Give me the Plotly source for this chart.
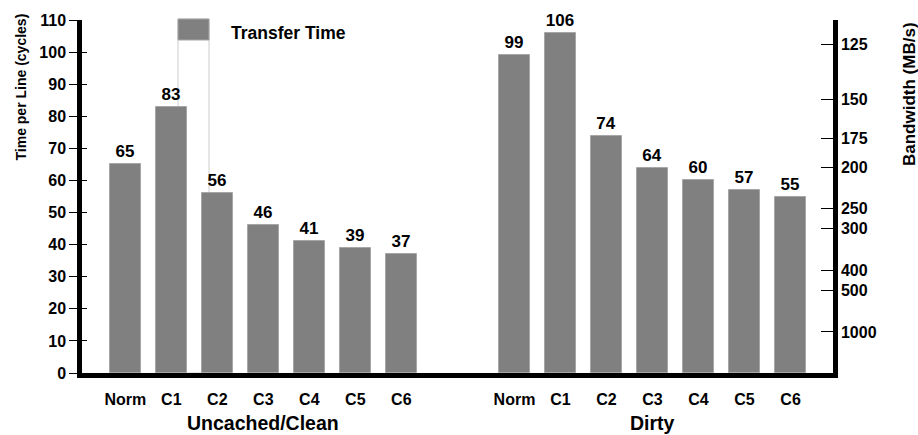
import plotly.graph_objects as go

# ---- data ----
categories = ["Norm", "C1", "C2", "C3", "C4", "C5", "C6"]
group_names = ["Uncached/Clean", "Dirty"]
clean_times = [65, 83, 56, 46, 41, 39, 37]
dirty_times = [99, 106, 74, 64, 60, 57, 55]
left_ticks = [0, 10, 20, 30, 40, 50, 60, 70, 80, 90, 100, 110]
bw_labels = ["125", "150", "175", "200", "250", "300", "400", "500", "1000"]
bw_tick_cycles = [102.4, 85.3, 73.1, 64.0, 51.2, 45.1, 32.0, 25.6, 12.8]
legend_name = "Transfer Time"

# ---- layout helpers ----
W, H = 918, 435
ML, MR, MT, MB = 82, 85, 20, 62
PW, PH = W - ML - MR, H - MT - MB
GROUP_GAP = 1.46
FONT = "Liberation Sans, Arial, Helvetica, sans-serif"
BAR = "#808080"

def px(xp):
    return (xp - ML) / PW

def py(yp):
    return (H - MB - yp) / PH

n = len(categories)
left_x = list(range(n))
right_x = [i + n + GROUP_GAP for i in range(n)]

fig = go.Figure()
for xs, ys in ((left_x, clean_times), (right_x, dirty_times)):
    fig.add_trace(go.Bar(
        x=xs, y=ys, width=0.67,
        marker=dict(color=BAR, line=dict(color="#a6a6a6", width=1)),
        text=[str(v) for v in ys], textposition="outside",
        textfont=dict(family=FONT, size=17, color="black", weight="bold"),
        constraintext="none", cliponaxis=False, showlegend=False,
        hoverinfo="skip",
    ))

# empty traces to activate the overlay axes
fig.add_trace(go.Scatter(x=[None], y=[None], yaxis="y3", showlegend=False))
fig.add_trace(go.Scatter(x=[None], y=[None], yaxis="y2", showlegend=False))

tickfont = dict(family=FONT, size=16, color="black", weight="bold")
fig.update_layout(
    width=W, height=H,
    margin=dict(l=ML, r=MR, t=MT, b=MB, pad=0),
    paper_bgcolor="white", plot_bgcolor="white",
    bargap=0,
    xaxis=dict(
        range=[-0.941, right_x[-1] + 0.923],
        tickvals=left_x + right_x, ticktext=categories + categories,
        showline=True, linewidth=4.5, linecolor="black",
        ticks="", showgrid=False, zeroline=False,
        tickfont=tickfont, ticklabelstandoff=8,
    ),
    yaxis=dict(
        range=[0, 110], tickvals=left_ticks,
        showline=True, linewidth=4.5, linecolor="black",
        ticks="outside", ticklen=8, tickwidth=1.2, tickcolor="black",
        showgrid=False, zeroline=False, tickfont=tickfont,
    ),
    yaxis3=dict(
        range=[0, 110], tickvals=left_ticks, overlaying="y", side="left",
        showline=False, showticklabels=False,
        ticks="inside", ticklen=5, tickwidth=1.2, tickcolor="black",
        showgrid=False, zeroline=False,
    ),
    yaxis2=dict(
        range=[0, 110], tickvals=bw_tick_cycles, ticktext=bw_labels,
        overlaying="y", side="right",
        showline=True, linewidth=4.5, linecolor="black",
        ticks="inside", ticklen=12, tickwidth=1.2, tickcolor="black",
        showgrid=False, zeroline=False, tickfont=tickfont,
    ),
    shapes=[
        dict(type="rect", xref="paper", yref="paper", layer="below",
             x0=px(178), x1=px(209), y0=py(373), y1=py(19),
             line=dict(color="#cccccc", width=1), fillcolor="white"),
        dict(type="rect", xref="paper", yref="paper", layer="above",
             x0=px(178), x1=px(209), y0=py(40), y1=py(19),
             line=dict(color="#a6a6a6", width=1), fillcolor=BAR),
    ],
)

ann_font = dict(family=FONT, color="black", weight="bold")
fig.add_annotation(x=px(229), y=py(33), xref="paper", yref="paper",
                   text=legend_name, showarrow=False, xanchor="left", yanchor="middle",
                   font=dict(size=17.5, **ann_font))
fig.add_annotation(x=sum(left_x) / n, y=py(423.5), xref="x", yref="paper",
                   text=group_names[0], showarrow=False, xanchor="center", yanchor="middle",
                   font=dict(size=19.5, **ann_font))
fig.add_annotation(x=sum(right_x) / n, y=py(423.5), xref="x", yref="paper",
                   text=group_names[1], showarrow=False, xanchor="center", yanchor="middle",
                   font=dict(size=19.5, **ann_font))
fig.add_annotation(x=px(20), y=py(87.5), xref="paper", yref="paper",
                   text="Time per Line (cycles)", showarrow=False, textangle=-90,
                   xanchor="center", yanchor="middle",
                   font=dict(size=14, **ann_font))
fig.add_annotation(x=px(909), y=py(94), xref="paper", yref="paper",
                   text="Bandwidth (MB/s)", showarrow=False, textangle=-90,
                   xanchor="center", yanchor="middle",
                   font=dict(size=17, **ann_font))

fig.write_html(
    "out.html",
    config={"displayModeBar": False},
    post_script="document.body.style.margin='0';document.body.style.overflow='hidden';",
)
